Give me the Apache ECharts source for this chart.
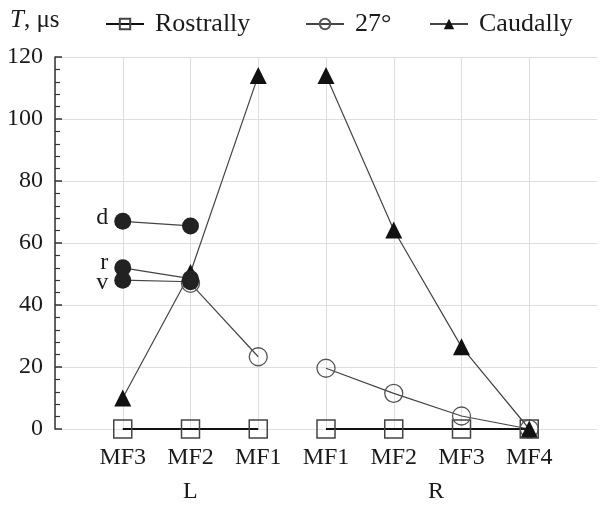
<!DOCTYPE html>
<html>
<head>
<meta charset="UTF-8">
<title></title>
<script src="https://cdn.jsdelivr.net/npm/echarts@6/dist/echarts.min.js"></script>
</head>
<body style="margin:0">
<div id="container" style="width: 600px; height: 506px;"></div>
<script type="text/javascript">
// categories along x; first three are L, last four are R
var categories = ['MF3', 'MF2', 'MF1', 'MF1', 'MF2', 'MF3', 'MF4'];
var rostrally = [0, 0, 0, 0, 0, 0, 0];
var deg27 = [null, 47, 23.3, 19.6, 11.5, 4.2, 0];
var caudally = [10, 50.5, 114, 114, 64.2, 26.5, 0];
// extra filled-circle series on the L side (MF3, MF2)
var dValues = [67, 65.5];
var rValues = [52, 48.5];
var vValues = [48, 47.5];
var yTicks = [0, 20, 40, 60, 80, 100, 120];

var serif = 'Liberation Serif';
var ink = '#1a1a1a';

function pairs(values, from, to) {
    var out = [];
    for (var i = from; i < to; i++) {
        if (values[i - from] !== null) out.push([i, values[i - from]]);
    }
    return out;
}
function side(values, left) {
    return left ? pairs(values.slice(0, 3), 0, 3) : pairs(values.slice(3), 3, 7);
}

// open markers are hollow: the line shows through them
var squareStyle = { color: 'rgba(255,255,255,0)', borderColor: '#444', borderWidth: 1.5 };
var circleStyle = { color: 'rgba(255,255,255,0)', borderColor: '#555', borderWidth: 1.3 };
var triStyle = { color: '#111' };

function lineSeries(name, data, symbol, size, itemStyle, lineStyle, z) {
    return {
        name: name, type: 'line', data: data, symbol: symbol, symbolSize: size,
        itemStyle: itemStyle, lineStyle: lineStyle, z: z, animation: false
    };
}

var thin = { color: '#444', width: 1.2 };
var bold = { color: '#111', width: 2 };

function dotSeries(label, values, offsetY) {
    return {
        name: label, type: 'line', data: pairs(values, 0, 2), symbol: 'circle', symbolSize: 17,
        itemStyle: { color: '#222' }, lineStyle: thin, z: 4, animation: false,
        label: {
            show: true, position: 'left', distance: 6, offset: [0, offsetY],
            fontFamily: serif, fontSize: 24, color: ink,
            formatter: function (p) { return p.dataIndex === 0 ? label : ''; }
        }
    };
}

var mychart = echarts.init(document.getElementById('container'));
var legendText = { fontFamily: serif, fontSize: 26, color: ink, padding: [0, 0, 0, 6] };
function legendAt(name, left) {
    return { data: [name], left: left, top: 6, itemWidth: 38, itemHeight: 13, textStyle: legendText, selectedMode: false };
}

var option = {
    backgroundColor: '#fff',
    legend: [legendAt('Rostrally', 100), legendAt('27°', 300), legendAt('Caudally', 424)],
    graphic: [
        { type: 'text', left: 10, top: 8, style: { text: '{i|T}, μs', rich: { i: { fontStyle: 'italic', fontFamily: serif, fontSize: 25 } }, font: '25px ' + serif, fill: ink } },
        { type: 'text', left: 183, top: 480, style: { text: 'L', font: '24px ' + serif, fill: ink } },
        { type: 'text', left: 428, top: 480, style: { text: 'R', font: '24px ' + serif, fill: ink } }
    ],
    grid: { left: 55, right: -3, top: 57, bottom: 77 },
    xAxis: {
        type: 'value', min: -1, max: 7, interval: 1,
        axisLine: { show: false }, axisTick: { show: false },
        splitLine: { show: true, showMaxLine: false, lineStyle: { color: '#dedede', width: 1 } },
        axisLabel: {
            margin: 17, fontFamily: serif, fontSize: 24, color: ink,
            formatter: function (v) { return v >= 0 && v < categories.length ? categories[v] : ''; }
        }
    },
    yAxis: {
        type: 'value', min: yTicks[0], max: yTicks[yTicks.length - 1], interval: 20,
        axisLine: { show: true, onZero: false, lineStyle: { color: '#333', width: 1.5 } },
        axisTick: { show: true, inside: true, length: 7, lineStyle: { color: '#333', width: 1.5 } },
        minorTick: { show: true, splitNumber: 5, length: 5, lineStyle: { color: '#333', width: 1.2 } },
        splitLine: { show: true, lineStyle: { color: '#dedede', width: 1 } },
        axisLabel: { margin: 12, fontFamily: serif, fontSize: 24, color: ink }
    },
    series: [
        lineSeries('Rostrally', side(rostrally, true), 'rect', 18, squareStyle, bold, 2),
        lineSeries('Rostrally', side(rostrally, false), 'rect', 18, squareStyle, bold, 2),
        lineSeries('27°', side(deg27, true), 'circle', 18, circleStyle, thin, 3),
        lineSeries('27°', side(deg27, false), 'circle', 18, circleStyle, thin, 3),
        lineSeries('Caudally', side(caudally, true), 'triangle', 17, triStyle, thin, 3),
        lineSeries('Caudally', side(caudally, false), 'triangle', 17, triStyle, thin, 3),
        dotSeries('d', dValues, -4),
        dotSeries('r', rValues, -5),
        dotSeries('v', vValues, 3)
    ]
};
mychart.setOption(option);
</script>
</body>
</html>
